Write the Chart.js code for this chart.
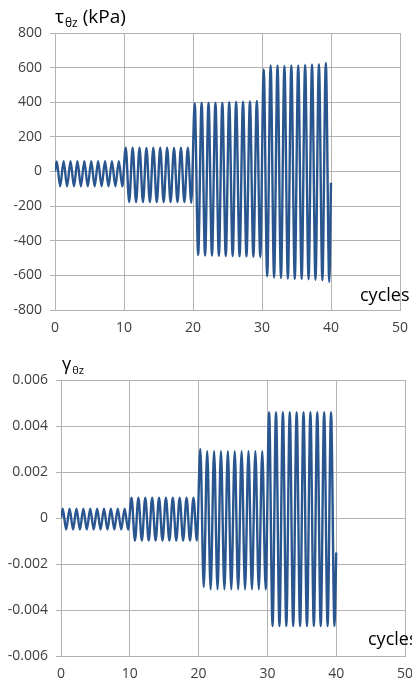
<!DOCTYPE html>
<html>
<head>
<meta charset="utf-8">
<script src="https://cdn.jsdelivr.net/npm/chart.js@4.4.1/dist/chart.umd.min.js"></script>
<style>
  html, body { margin: 0; padding: 0; background: #fff; overflow: hidden; }
  .box { position: absolute; left: 0; width: 412px; height: 343px; }
</style>
</head>
<body>
<div class="box" style="top:0"><canvas id="chartTau"></canvas></div>
<div class="box" style="top:343px"><canvas id="chartGamma"></canvas></div>
<script>
// datos: un pico y un valle por ciclo (40 ciclos)
var peakAt = 0.25, troughAt = 0.75;

var tauPeaks = [
  58, 60, 60, 60, 60, 60, 60, 60, 60, 60,
  137, 137, 137, 136, 137, 137, 137, 136, 137, 137,
  395, 398, 398, 398, 398, 400, 402, 403, 405, 407,
  590, 613, 612, 610, 612, 613, 615, 618, 620, 627
];
var tauTroughs = [
  -85, -86, -86, -86, -86, -86, -86, -86, -86, -86,
  -176, -177, -177, -177, -177, -177, -177, -177, -177, -180,
  -482, -486, -486, -487, -488, -488, -490, -490, -492, -494,
  -605, -612, -615, -618, -620, -620, -622, -625, -628, -638
];
var tauStart = 0, tauEnd = -65;

var gammaPeaks = [
  0.0004, 0.0004, 0.0004, 0.0004, 0.0004, 0.0004, 0.0004, 0.0004, 0.0004, 0.0004,
  0.00088, 0.00088, 0.00088, 0.00088, 0.00088, 0.00088, 0.00088, 0.00088, 0.00088, 0.00088,
  0.0030, 0.0029, 0.0029, 0.0029, 0.0029, 0.0029, 0.0029, 0.0029, 0.0029, 0.0029,
  0.0046, 0.0046, 0.0046, 0.0046, 0.0046, 0.0046, 0.0046, 0.0046, 0.0046, 0.0046
];
var gammaTroughs = [
  -0.0005, -0.0005, -0.0005, -0.0005, -0.0005, -0.0005, -0.0005, -0.0005, -0.0005, -0.0005,
  -0.00098, -0.00098, -0.00098, -0.00098, -0.00098, -0.00098, -0.00098, -0.00098, -0.00098, -0.00098,
  -0.0030, -0.0031, -0.0031, -0.0031, -0.0031, -0.0031, -0.0031, -0.0031, -0.0031, -0.0031,
  -0.0047, -0.0047, -0.0047, -0.0047, -0.0047, -0.0047, -0.0047, -0.0047, -0.0047, -0.0047
];
var gammaStart = 0, gammaEnd = -0.0015;

var xTicks = [0, 10, 20, 30, 40, 50];
var tauTicks = [-800, -600, -400, -200, 0, 200, 400, 600, 800];
var gammaTicks = [-0.006, -0.004, -0.002, 0, 0.002, 0.004, 0.006];

var lineColor = '#2a568f';
var gridColor = '#b3b3b3';
var fontFamily = "'Open Sans', sans-serif";

function buildSeries(peaks, troughs, start, end) {
  var pts = [{ x: 0, y: start }];
  for (var i = 0; i < peaks.length; i++) {
    pts.push({ x: i + peakAt, y: peaks[i] });
    pts.push({ x: i + troughAt, y: troughs[i] });
  }
  pts.push({ x: peaks.length, y: end });
  return pts;
}

// dibuja textos con subindice (titulo del eje y y etiqueta "cycles")
var axisLabels = {
  id: 'axisLabels',
  afterDraw: function (chart, args, opts) {
    var ctx = chart.ctx;
    ctx.save();
    ctx.fillStyle = '#000';
    ctx.textBaseline = 'alphabetic';
    ctx.textAlign = 'left';
    var x = opts.titleX;
    ctx.font = opts.size + 'px ' + fontFamily;
    ctx.fillText(opts.main, x, opts.titleY);
    x += ctx.measureText(opts.main).width + 1;
    ctx.font = opts.subSize + 'px ' + fontFamily;
    ctx.fillText(opts.sub, x, opts.titleY + 4);
    x += ctx.measureText(opts.sub).width;
    if (opts.rest) {
      ctx.font = opts.size + 'px ' + fontFamily;
      ctx.fillText(opts.rest, x, opts.titleY);
    }
    ctx.font = '18px ' + fontFamily;
    ctx.fillText(opts.xLabel, opts.xLabelX, opts.xLabelY);
    ctx.restore();
  }
};

function makeChart(id, series, yTicks, yMin, yMax, yWidth, xHeight, pad, labelOpts, fmt) {
  var ctx = document.getElementById(id).getContext('2d');
  return new Chart(ctx, {
    type: 'line',
    data: {
      datasets: [{
        data: series,
        borderColor: lineColor,
        borderWidth: 2.4,
        pointRadius: 0,
        fill: false,
        cubicInterpolationMode: 'monotone'
      }]
    },
    options: {
      responsive: true,
      maintainAspectRatio: false,
      animation: false,
      layout: { padding: pad },
      plugins: {
        legend: { display: false },
        tooltip: { enabled: false },
        axisLabels: labelOpts
      },
      scales: {
        x: {
          type: 'linear',
          min: 0,
          max: 50,
          afterBuildTicks: function (s) { s.ticks = xTicks.map(function (v) { return { value: v }; }); },
          afterFit: function (s) { s.height = xHeight; s.paddingLeft = 0; s.paddingRight = 0; },
          grid: { color: gridColor, lineWidth: 1, drawTicks: false },
          border: { color: gridColor },
          ticks: { padding: 10, color: '#404040', font: { family: fontFamily, size: 14 } }
        },
        y: {
          min: yMin,
          max: yMax,
          afterBuildTicks: function (s) { s.ticks = yTicks.map(function (v) { return { value: v }; }); },
          afterFit: function (s) { s.width = yWidth; },
          grid: { color: gridColor, lineWidth: 1, tickLength: 5, tickColor: gridColor },
          border: { color: gridColor },
          ticks: {
            padding: 8,
            color: '#404040',
            font: { family: fontFamily, size: 14 },
            callback: fmt
          }
        }
      }
    },
    plugins: [axisLabels]
  });
}

makeChart('chartTau', buildSeries(tauPeaks, tauTroughs, tauStart, tauEnd),
  tauTicks, -800, 800, 55, 33,
  { left: 0, right: 12, top: 33, bottom: 0 },
  { main: 'τ', sub: 'θz', rest: ' (kPa)', size: 19, subSize: 12, titleX: 55, titleY: 23,
    xLabel: 'cycles', xLabelX: 360, xLabelY: 301 },
  function (v) { return String(v); });

makeChart('chartGamma', buildSeries(gammaPeaks, gammaTroughs, gammaStart, gammaEnd),
  gammaTicks, -0.006, 0.006, 61, 30,
  { left: 0, right: 7, top: 37, bottom: 0 },
  { main: 'γ', sub: 'θz', rest: '', size: 18, subSize: 11, titleX: 62, titleY: 27,
    xLabel: 'cycles', xLabelX: 368, xLabelY: 302 },
  function (v) { return Math.abs(v) < 1e-9 ? '0' : v.toFixed(3); });
</script>
</body>
</html>
